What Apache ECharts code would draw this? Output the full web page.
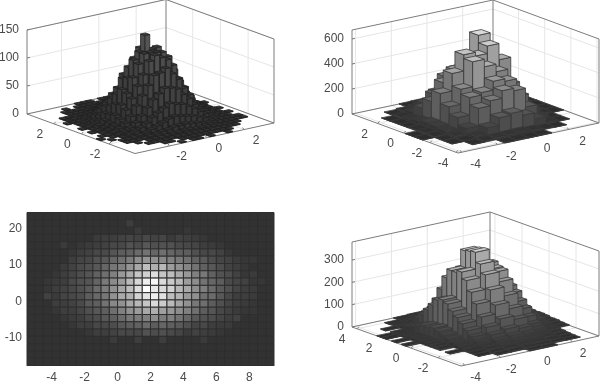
<!DOCTYPE html>
<html><head><meta charset="utf-8">
<style>html,body{margin:0;padding:0;background:#fff}#c{width:600px;height:383px;filter:blur(.45px)}</style>
<script src="https://cdn.jsdelivr.net/npm/echarts@6/dist/echarts.min.js"></script>
</head><body><div id="c"></div>
<script>
// rows run along y (first row = lowest y), columns along x (first column = lowest x)
var counts1=[
[0,0,0,0,0,0,0,0,1,0,1,1,0,1,0,0,1,0,0,0,0,0,0,0],
[0,0,0,0,0,0,1,1,0,1,1,1,1,1,1,1,1,1,0,0,0,0,0,0],
[0,0,0,0,1,1,1,1,2,2,2,3,3,2,2,1,1,1,1,1,0,0,0,0],
[0,0,0,1,0,1,2,2,3,4,4,6,5,4,4,3,2,1,1,1,1,0,0,0],
[0,0,1,1,1,2,3,5,7,8,11,11,12,10,9,6,5,3,2,1,1,1,1,0],
[0,0,1,1,2,4,6,10,14,18,22,24,22,20,18,14,10,6,4,2,1,1,1,0],
[0,1,0,2,4,8,12,18,26,32,38,44,40,38,32,26,18,12,7,4,2,1,0,0],
[1,0,1,3,6,11,18,28,40,52,60,68,66,62,50,40,28,18,12,6,2,1,1,0],
[0,1,1,4,9,16,26,42,58,74,90,92,98,86,74,56,42,26,16,8,4,1,0,0],
[0,0,2,5,11,20,34,52,72,90,112,120,114,108,96,70,52,34,20,10,6,2,1,0],
[0,1,3,6,12,24,40,58,84,106,122,122,120,118,108,82,60,38,24,12,7,2,0,0],
[0,0,2,7,14,22,38,62,80,110,122,150,122,124,104,86,56,40,22,14,6,3,0,0],
[0,1,3,6,10,21,32,50,76,94,108,124,112,116,90,74,48,32,22,12,5,3,1,0],
[0,0,2,3,8,15,28,40,56,78,84,96,92,90,72,60,38,28,14,9,3,2,0,0],
[0,0,2,2,5,12,20,30,42,50,62,64,70,58,52,38,30,20,10,5,3,1,0,0],
[0,1,1,1,4,7,11,20,24,34,40,40,42,36,30,24,16,11,8,3,1,0,0,0],
[0,0,1,2,1,3,7,9,15,16,20,22,24,22,16,12,9,7,3,2,2,0,0,0],
[0,0,1,1,1,2,3,4,6,9,9,12,10,11,8,7,4,3,2,1,1,0,0,0],
[0,0,0,0,1,1,1,2,2,3,5,4,6,4,3,2,2,1,1,1,1,0,0,0],
[0,0,0,0,1,1,1,1,1,1,2,2,2,1,2,1,1,1,1,0,0,0,0,0],
[0,0,0,0,0,1,0,1,1,1,1,1,1,1,1,1,1,0,0,0,0,0,0,0],
[0,0,0,0,0,0,0,0,1,1,1,0,1,1,0,1,0,0,0,0,0,0,0,0]];
var counts2=[
[0,0,0,0,3,4,2,3,0,0,0,0],
[0,0,2,8,14,16,18,12,5,1,0,0],
[0,1,4,20,70,130,145,110,60,12,2,0],
[0,3,14,60,200,240,300,280,130,30,3,0],
[1,6,30,120,260,280,350,330,190,60,8,1],
[1,8,40,180,300,500,440,380,260,90,10,1],
[0,6,45,260,400,530,500,560,430,120,14,1],
[0,3,30,170,300,380,470,620,400,140,12,1],
[0,2,18,90,180,300,340,380,280,110,8,0],
[0,1,8,30,80,150,180,200,130,40,4,0],
[0,0,3,10,20,40,50,45,30,10,1,0],
[0,0,0,0,2,5,6,6,3,1,0,0]];
var counts4=[
[0,0,0,0,0,3,2,0,0,0],
[0,0,0,2,3,6,4,3,1,0],
[0,0,1,4,8,12,9,5,2,0],
[0,0,3,9,16,22,18,10,4,0],
[0,0,6,14,28,36,30,16,7,0],
[0,2,12,26,46,58,48,28,12,0],
[0,0,15,42,72,96,80,44,15,3],
[0,5,20,62,110,150,120,68,24,5],
[0,8,30,85,160,210,170,95,32,8],
[0,9,38,105,205,270,225,120,42,8],
[0,12,48,125,250,310,260,150,50,12],
[3,14,55,150,280,355,265,170,60,14],
[0,12,50,160,270,350,280,165,55,12],
[2,12,50,150,270,345,270,150,50,10],
[0,10,40,120,230,260,235,120,40,9],
[1,8,30,90,170,200,180,90,32,6],
[1,6,22,62,115,135,118,62,24,4],
[0,0,14,38,70,85,72,38,14,3],
[0,2,8,20,38,48,40,22,8,2],
[0,0,4,10,18,22,20,10,4,0],
[0,0,1,4,8,10,8,4,1,0],
[0,0,0,1,3,4,3,1,0,0]];
// rows top to bottom
var heatRows=[
[0,0,0,0,0,0,0,0,0,0,0,0,0,0,0,0,0,0,0,0,0,0,0,0,0,0,0,0,0,0],
[0,0,0,0,0,0,0,0,0,0,0,0,3,0,0,0,0,0,0,0,0,0,0,0,0,0,0,0,0,0],
[0,0,0,0,0,0,0,0,0,0,0,0,0,2,0,0,0,0,0,1,0,0,0,0,0,0,0,0,0,0],
[0,0,0,0,0,0,0,0,2,3,3,4,5,4,6,4,5,2,4,3,2,1,0,0,0,0,0,0,0,0],
[0,0,0,0,2,0,1,2,3,4,6,6,10,8,12,9,10,10,7,6,5,3,2,1,0,0,0,0,0,0],
[0,0,0,0,0,1,3,4,6,7,11,14,16,20,24,18,22,18,15,14,9,6,6,4,1,0,0,0,0,0],
[0,0,0,0,0,3,5,6,10,12,18,22,28,36,40,38,34,30,26,22,16,13,8,5,4,2,1,1,0,0],
[0,0,0,0,2,4,7,9,12,18,25,30,40,50,62,54,58,44,38,32,24,16,12,8,4,3,1,0,0,0],
[0,0,0,1,3,5,8,11,16,22,30,42,52,66,72,80,66,62,52,42,30,26,16,10,8,4,1,2,0,0],
[0,0,1,2,3,7,9,11,17,27,35,44,60,76,90,95,78,68,60,44,36,24,18,14,7,5,4,1,1,0],
[0,0,1,3,4,6,9,13,20,28,38,49,62,80,100,86,78,73,58,50,37,29,20,13,9,5,3,2,0,0],
[0,0,4,2,5,6,8,14,19,25,38,50,55,74,84,90,82,62,56,42,38,22,20,12,6,3,3,2,0,0],
[0,0,0,3,3,4,7,13,15,24,34,38,50,58,66,78,70,60,48,38,26,22,14,9,5,3,2,1,0,0],
[0,0,0,1,3,3,5,9,12,15,22,30,38,44,50,54,46,42,36,30,22,14,11,6,4,2,1,1,0,0],
[0,0,0,0,1,2,3,6,8,12,15,20,26,28,30,36,28,30,24,18,12,10,8,5,3,4,0,0,0,0],
[0,0,0,0,0,1,3,3,6,6,8,12,14,16,20,14,18,15,13,9,5,6,3,2,2,0,0,0,0,0],
[0,0,0,0,0,0,0,1,3,3,4,6,6,6,10,8,9,7,5,2,4,3,2,1,0,0,0,0,0,0],
[0,0,0,0,0,0,0,0,0,0,2,0,0,3,0,0,3,0,0,0,0,2,0,0,0,0,0,0,0,0],
[0,0,0,0,0,0,0,0,0,0,0,0,0,0,0,0,0,0,0,0,0,0,0,0,0,0,0,0,0,0],
[0,0,0,0,0,0,0,0,0,0,0,0,0,0,0,0,0,0,0,0,0,0,0,0,0,0,0,0,0,0],
[0,0,0,0,0,0,0,0,0,0,0,0,0,0,0,0,0,0,0,0,0,0,0,0,0,0,0,0,0,0]];
var heatXTicks=[-4,-2,0,2,4,6,8];
var heatYTicks=[-10,0,10,20];
var heatXRange=[-5.5,9.5];
var heatYRange=[-17.6,24.4];

var LINE='#7c7c7c', GRID='#e6e6e6', TEXT='#4a4a4a', FONT='12px "Liberation Sans"';

function rgb(v){v=Math.round(v);return 'rgb('+v+','+v+','+v+')';}

function panel3d(c){
  var xs=c.xRange, ys=c.yRange;
  var F=c.front,L=c.left,R=c.right,H=c.height;
  function P(x,y,z){
    var a=(x-xs[0])/(xs[1]-xs[0]), b=(y-ys[0])/(ys[1]-ys[0]);
    return [F[0]+a*(R[0]-F[0])+b*(L[0]-F[0]), F[1]+a*(R[1]-F[1])+b*(L[1]-F[1])-z/c.zMax*H];
  }
  var nj=c.counts.length, ni=c.counts[0].length, dx=(xs[1]-xs[0])/ni, dy=(ys[1]-ys[0])/nj;
  var bars=[];
  for(var j=nj-1;j>=0;j--)for(var i=ni-1;i>=0;i--){
    if(c.counts[j][i]>0)bars.push([i,j,c.counts[j][i]]);
  }
  function line(a,b,col,w){return {type:'line',shape:{x1:a[0],y1:a[1],x2:b[0],y2:b[1]},style:{stroke:col,lineWidth:w||1}};}
  function text(p,s,align,vert){return {type:'text',style:{text:s,x:p[0],y:p[1],fill:TEXT,font:FONT,align:align||'center',verticalAlign:vert||'middle'}};}
  function frame(){
    var ch=[],z1=c.zMax,x0=xs[0],x1=xs[1],y0=ys[0],y1=ys[1];
    c.zTicks.forEach(function(t){
      ch.push(line(P(x0,y1,t),P(x1,y1,t),GRID));ch.push(line(P(x1,y1,t),P(x1,y0,t),GRID));
    });
    c.xTicks.forEach(function(t){
      ch.push(line(P(t,y0,0),P(t,y1,0),GRID));ch.push(line(P(t,y1,0),P(t,y1,z1),GRID));
    });
    c.yTicks.forEach(function(t){
      ch.push(line(P(x0,t,0),P(x1,t,0),GRID));ch.push(line(P(x1,t,0),P(x1,t,z1),GRID));
    });
    [[[x0,y1,z1],[x1,y1,z1]],[[x1,y1,z1],[x1,y0,z1]],[[x0,y1,0],[x0,y1,z1]],[[x1,y1,0],[x1,y1,z1]],[[x1,y0,0],[x1,y0,z1]],
     [[x0,y1,0],[x1,y1,0]],[[x1,y1,0],[x1,y0,0]],[[x0,y1,0],[x0,y0,0]],[[x0,y0,0],[x1,y0,0]]].forEach(function(s){
      ch.push(line(P.apply(null,s[0]),P.apply(null,s[1]),LINE));
    });
    c.zTicks.forEach(function(t){
      var p=P(x0,y1,t);ch.push(line(p,[p[0]+3,p[1]-.7],LINE));
      ch.push(text([p[0]-8,p[1]],String(t),'right'));
    });
    c.xTicks.forEach(function(t){
      var p=P(t,y0,0);ch.push(line(p,[p[0]-1.5,p[1]-2],LINE));
      ch.push(text([p[0]+c.xLabel[0],p[1]+c.xLabel[1]],String(t)));
    });
    c.yTicks.forEach(function(t){
      var p=P(x0,t,0);ch.push(line(p,[p[0]+2,p[1]-2],LINE));
      ch.push(text([p[0]+c.yLabel[0],p[1]+c.yLabel[1]],String(t)));
    });
    return {type:'group',children:ch};
  }
  return [
    {type:'custom',coordinateSystem:'none',silent:true,z:1,animation:false,data:[[0]],renderItem:function(){return frame();}},
    {type:'custom',coordinateSystem:'none',silent:true,z:2,animation:false,clip:false,data:bars,
     renderItem:function(params,api){
      var i=api.value(0),j=api.value(1),v=api.value(2);
      var m=(1-c.barFill)/2;
      var a0=xs[0]+(i+m)*dx,a1=xs[0]+(i+1-m)*dx,b0=ys[0]+(j+m)*dy,b1=ys[0]+(j+1-m)*dy;
      var t=Math.pow(v/c.peak,c.gamma),top=c.shade[0]+t*(c.shade[1]-c.shade[0]);
      var side=c.shade[0]+t*(c.shade[2]-c.shade[0]);
      var st=function(f){return {fill:f,stroke:c.edge,lineWidth:c.edgeWidth};};
      return {type:'group',children:[
        {type:'polygon',shape:{points:[P(a0,b0,0),P(a1,b0,0),P(a1,b0,v),P(a0,b0,v)]},style:st(rgb(side))},
        {type:'polygon',shape:{points:[P(a0,b0,0),P(a0,b1,0),P(a0,b1,v),P(a0,b0,v)]},style:st(rgb(side*.9))},
        {type:'polygon',shape:{points:[P(a0,b0,v),P(a1,b0,v),P(a1,b1,v),P(a0,b1,v)]},style:st(rgb(top))}
      ]};
     }}
  ];
}

var series=[].concat(
 panel3d({counts:counts1,xRange:[-3.85,3.6],yRange:[-3.87,3.93],zMax:150,peak:150,gamma:1,
  front:[135,153.5],left:[27,114],right:[274,123],height:84,
  xTicks:[-2,0,2],yTicks:[-2,0,2],zTicks:[0,50,100,150],xLabel:[12,11],yLabel:[-14,11],
  barFill:.86,shade:[50,58,84],edge:'#222',edgeWidth:.8}),
 panel3d({counts:counts2,xRange:[-4.2,3.7],yRange:[-4.15,3.95],zMax:672,peak:620,gamma:.85,
  front:[458,153],left:[352,114],right:[599,123],height:84,
  xTicks:[-4,-2,0,2],yTicks:[-4,-2,0,2],zTicks:[0,200,400,600],xLabel:[14,12],yLabel:[-13,11],
  barFill:1,shade:[44,218,170],edge:'#3a3a3a',edgeWidth:.8}),
 panel3d({counts:counts4,xRange:[-4.2,3.5],yRange:[-3.7,4.37],zMax:381,peak:355,gamma:.85,
  front:[461,366],left:[352,327],right:[599,336],height:85,
  xTicks:[-4,-2,0,2],yTicks:[-2,0,2,4],zTicks:[0,100,200,300],xLabel:[11,12],yLabel:[-15,10.5],
  barFill:1,shade:[44,205,170],edge:'#3a3a3a',edgeWidth:.8})
);

var nr=heatRows.length,nc=heatRows[0].length;
var heatData=[];
heatRows.forEach(function(r,ri){r.forEach(function(v,ci){heatData.push([ci,nr-1-ri,v]);});});
var hdx=(heatXRange[1]-heatXRange[0])/nc, hdy=(heatYRange[1]-heatYRange[0])/nr;
series.push({type:'custom',coordinateSystem:'cartesian2d',silent:true,animation:false,z:2,data:heatData,
  encode:{x:0,y:1},
  renderItem:function(params,api){
    var ci=api.value(0),ri=api.value(1),v=api.value(2);
    var a=api.coord([heatXRange[0]+ci*hdx,heatYRange[0]+(ri+1)*hdy]);
    var b=api.coord([heatXRange[0]+(ci+1)*hdx,heatYRange[0]+ri*hdy]);
    var g=50+205*Math.pow(v/100,.8);
    return {type:'rect',shape:{x:a[0],y:a[1],width:b[0]-a[0],height:b[1]-a[1]},
      style:{fill:rgb(g),stroke:'#2e2e2e',lineWidth:1}};
  }});

var chart=echarts.init(document.getElementById('c'),null,{renderer:'canvas',width:600,height:383});
chart.setOption({
  animation:false,backgroundColor:'#fff',
  grid:{left:27,top:212.5,width:247,height:153,show:false,containLabel:false,outerBoundsMode:'none'},
  xAxis:{type:'value',min:heatXRange[0],max:heatXRange[1],splitLine:{show:false},
    axisLine:{onZero:false,lineStyle:{color:LINE}},axisTick:{show:false,customValues:heatXTicks},
    axisLabel:{customValues:heatXTicks,color:TEXT,fontFamily:'Liberation Sans',fontSize:12,margin:6}},
  yAxis:{type:'value',min:heatYRange[0],max:heatYRange[1],splitLine:{show:false},
    axisLine:{onZero:false,lineStyle:{color:LINE}},axisTick:{show:false,customValues:heatYTicks},
    axisLabel:{customValues:heatYTicks,color:TEXT,fontFamily:'Liberation Sans',fontSize:12,margin:5}},
  series:series
});
</script></body></html>
